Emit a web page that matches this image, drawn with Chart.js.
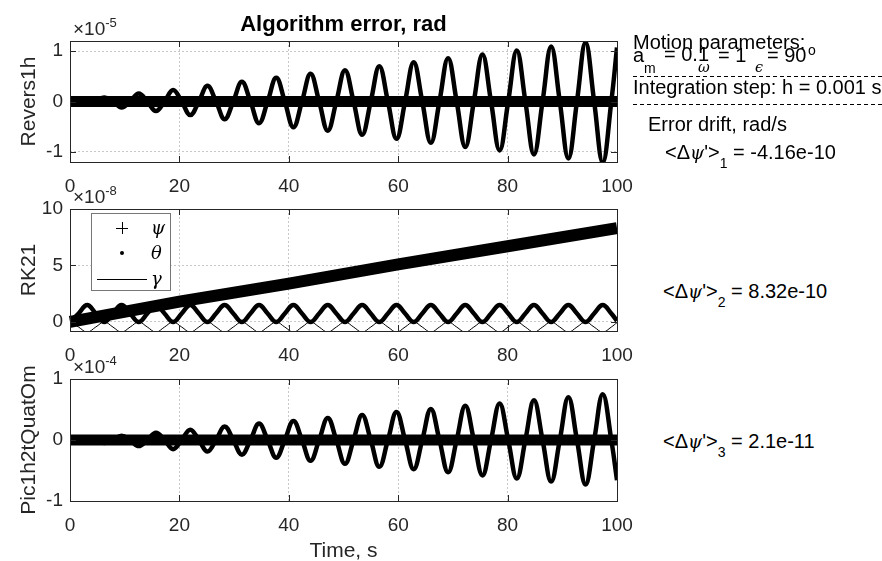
<!DOCTYPE html>
<html lang="en">
<head>
<meta charset="UTF-8">
<title>Algorithm error, rad</title>
<script src="https://cdn.jsdelivr.net/npm/chart.js"></script>
<style>
    body { margin: 0; background: #fff; }
    #page { position: relative; width: 882px; height: 561px; overflow: hidden; background: #fff; }
    canvas { position: absolute; left: 0; }
    .t { position: absolute; font: 20px "Liberation Sans", Arial, sans-serif; line-height: 20px; white-space: nowrap; color: #000; }
    .s { font-size: 14px; line-height: 14px; }
    .g { font-family: "DejaVu Serif", serif; font-style: italic; font-size: 0.9em; }
    .dash { position: absolute; left: 633px; width: 249px; height: 1px;
            background: repeating-linear-gradient(90deg, #000 0 4px, transparent 4px 7px); }
    .d sub { font-size: 14px; vertical-align: -9px; line-height: 0; }
</style>
</head>
<body>
<div id="page">
    <canvas id="c1" width="640" height="200" style="top:0px"></canvas>
    <canvas id="c2" width="640" height="201" style="top:168px"></canvas>
    <canvas id="c3" width="640" height="223" style="top:338px"></canvas>

    <div class="t" style="left:633px; top:32px">Motion parameters:</div>
    <div class="t" style="left:633px; top:45px">a</div>
    <div class="t s" style="left:644px; top:61px">m</div>
    <div class="t" style="left:664px; top:44px">= 0.1</div>
    <div class="t s g" style="left:698px; top:60px">ω</div>
    <div class="t" style="left:718px; top:45px">= 1</div>
    <div class="t s g" style="left:755px; top:60px">ϵ</div>
    <div class="t" style="left:767px; top:45px">= 90</div>
    <div class="t s" style="left:808px; top:43px">o</div>
    <div class="dash" style="top:76px"></div>
    <div class="t" style="left:633px; top:77px">Integration step: h = 0.001 s</div>
    <div class="dash" style="top:104px"></div>
    <div class="t" style="left:648px; top:114px">Error drift, rad/s</div>
    <div class="t d" style="left:665px; top:142px">&lt;Δ<span class="g">ψ</span>'&gt;<sub>1</sub> = -4.16e-10</div>
    <div class="t d" style="left:663px; top:281px">&lt;Δ<span class="g">ψ</span>'&gt;<sub>2</sub> = 8.32e-10</div>
    <div class="t d" style="left:663px; top:431px">&lt;Δ<span class="g">ψ</span>'&gt;<sub>3</sub> = 2.1e-11</div>
</div>

<script>
// time points at every quarter period, s
const tQuarter = [0, 1.57, 3.14, 4.71, 6.28, 7.85, 9.42, 11.0, 12.57, 14.14, 15.71, 17.28,
    18.85, 20.42, 21.99, 23.56, 25.13, 26.7, 28.27, 29.85, 31.42, 32.99, 34.56, 36.13,
    37.7, 39.27, 40.84, 42.41, 43.98, 45.55, 47.12, 48.69, 50.27, 51.84, 53.41, 54.98,
    56.55, 58.12, 59.69, 61.26, 62.83, 64.4, 65.97, 67.54, 69.12, 70.69, 72.26, 73.83,
    75.4, 76.97, 78.54, 80.11, 81.68, 83.25, 84.82, 86.39, 87.96, 89.54, 91.11, 92.68,
    94.25, 95.82, 97.39, 98.96, 100];

// Revers1h, x1e-5
const psi1 = [0, 0];
const gamma1 = [0, 0];
const theta1 = [0, 0, -0.04, 0, 0.08, 0, -0.12, 0, 0.16, 0, -0.19, 0, 0.23, 0, -0.27, 0,
    0.31, 0, -0.35, 0, 0.39, 0, -0.43, 0, 0.47, 0, -0.51, 0, 0.55, 0, -0.58, 0, 0.62, 0,
    -0.66, 0, 0.70, 0, -0.74, 0, 0.78, 0, -0.82, 0, 0.86, 0, -0.90, 0, 0.93, 0, -0.97, 0,
    1.01, 0, -1.05, 0, 1.09, 0, -1.13, 0, 1.17, 0, -1.21, 0, 1.07];

// RK21, x1e-8
const driftT = [0, 20, 40, 60, 80, 100];
const psi2 = [0, 1.8, 3.4, 5.1, 6.7, 8.3];
const theta2 = [0, 0.75, 1.5, 0.75, 0, 0.75, 1.5, 0.75, 0, 0.75, 1.5, 0.75, 0, 0.75, 1.5, 0.75,
    0, 0.75, 1.5, 0.75, 0, 0.75, 1.5, 0.75, 0, 0.75, 1.5, 0.75, 0, 0.75, 1.5, 0.75, 0, 0.75,
    1.5, 0.75, 0, 0.75, 1.5, 0.75, 0, 0.75, 1.5, 0.75, 0, 0.75, 1.5, 0.75, 0, 0.75, 1.5, 0.75,
    0, 0.75, 1.5, 0.75, 0, 0.75, 1.5, 0.75, 0, 0.75, 1.5, 0.75, 0.1];
const gamma2 = [0, -0.45, -0.9, -0.45, 0, -0.45, -0.9, -0.45, 0, -0.45, -0.9, -0.45, 0, -0.45,
    -0.9, -0.45, 0, -0.45, -0.9, -0.45, 0, -0.45, -0.9, -0.45, 0, -0.45, -0.9, -0.45, 0, -0.45,
    -0.9, -0.45, 0, -0.45, -0.9, -0.45, 0, -0.45, -0.9, -0.45, 0, -0.45, -0.9, -0.45, 0, -0.45,
    -0.9, -0.45, 0, -0.45, -0.9, -0.45, 0, -0.45, -0.9, -0.45, 0, -0.45, -0.9, -0.45, 0, -0.45,
    -0.9, -0.45, -0.05];

// Pic1h2tQuatOm, x1e-4
const psi3 = [0, 0];
const gamma3 = [0, 0];
const theta3 = [0, 0, 0.02, 0, -0.05, 0, 0.07, 0, -0.10, 0, 0.12, 0, -0.15, 0, 0.17, 0,
    -0.19, 0, 0.22, 0, -0.24, 0, 0.27, 0, -0.29, 0, 0.31, 0, -0.34, 0, 0.36, 0, -0.39, 0,
    0.41, 0, -0.44, 0, 0.46, 0, -0.48, 0, 0.51, 0, -0.53, 0, 0.56, 0, -0.58, 0, 0.60, 0,
    -0.63, 0, 0.65, 0, -0.68, 0, 0.70, 0, -0.73, 0, 0.75, 0, -0.66];

const xTicks = [0, 20, 40, 60, 80, 100];
const yTicks1 = [-1, 0, 1];
const yTicks2 = [0, 5, 10];
const yTicks3 = [-1, 0, 1];
const legendLabels = ['ψ', 'θ', 'γ'];

const axisColor = '#262626';
const sans = '"Liberation Sans", Arial, sans-serif';

function pts(xs, ys) {
    return xs.map((x, i) => ({ x: x, y: ys[i] }));
}

// box, inward ticks, exponent label, titles, legend
function makeFrame(o) {
    return {
        id: 'frame',
        afterDraw(chart) {
            const { ctx, chartArea: a, scales: { x, y } } = chart;
            ctx.save();
            ctx.strokeStyle = axisColor;
            ctx.lineWidth = 1;
            ctx.beginPath();
            x.ticks.forEach(t => {
                const px = Math.round(x.getPixelForValue(t.value)) + 0.5;
                ctx.moveTo(px, a.bottom); ctx.lineTo(px, a.bottom - 6);
                ctx.moveTo(px, a.top); ctx.lineTo(px, a.top + 6);
            });
            y.ticks.forEach(t => {
                const py = Math.round(y.getPixelForValue(t.value)) + 0.5;
                ctx.moveTo(a.left, py); ctx.lineTo(a.left + 6, py);
                ctx.moveTo(a.right, py); ctx.lineTo(a.right - 6, py);
            });
            ctx.stroke();
            ctx.strokeRect(Math.round(a.left) + 0.5, Math.round(a.top) + 0.5,
                Math.round(a.width), Math.round(a.height));

            ctx.fillStyle = axisColor;
            ctx.textBaseline = 'alphabetic';
            ctx.font = '19px ' + sans;
            ctx.fillText('×10', a.left + 3, a.top - 6);
            const w = ctx.measureText('×10').width;
            ctx.font = '13px ' + sans;
            ctx.fillText(o.exp, a.left + 3 + w, a.top - 14);

            ctx.font = '21px ' + sans;
            ctx.save();
            ctx.translate(35, (a.top + a.bottom) / 2);
            ctx.rotate(-Math.PI / 2);
            ctx.textAlign = 'center';
            ctx.fillText(o.yTitle, 0, 0);
            ctx.restore();

            if (o.title) {
                ctx.fillStyle = '#000';
                ctx.font = 'bold 22px ' + sans;
                ctx.textAlign = 'center';
                ctx.fillText(o.title, (a.left + a.right) / 2, 31);
            }
            if (o.xTitle) {
                ctx.font = '21px ' + sans;
                ctx.textAlign = 'center';
                ctx.fillText(o.xTitle, (a.left + a.right) / 2, chart.height - 4);
            }
            if (o.legend) {
                const L = o.legend;
                ctx.fillStyle = '#fff';
                ctx.fillRect(L.x, L.y, L.w, L.h);
                ctx.strokeStyle = '#777';
                ctx.strokeRect(L.x + 0.5, L.y + 0.5, L.w, L.h);
                ctx.strokeStyle = '#000';
                ctx.fillStyle = '#000';
                const cx = L.x + 31;
                const rows = [L.y + 15, L.y + 40, L.y + 66];
                ctx.beginPath();
                ctx.moveTo(cx - 6, rows[0] + 0.5); ctx.lineTo(cx + 6, rows[0] + 0.5);
                ctx.moveTo(cx + 0.5, rows[0] - 6); ctx.lineTo(cx + 0.5, rows[0] + 6);
                ctx.stroke();
                ctx.beginPath();
                ctx.arc(cx, rows[1], 2, 0, Math.PI * 2);
                ctx.fill();
                ctx.beginPath();
                ctx.moveTo(L.x + 6, rows[2] + 0.5); ctx.lineTo(L.x + 56, rows[2] + 0.5);
                ctx.stroke();
                ctx.font = 'italic 18px "DejaVu Serif", serif';
                ctx.textAlign = 'left';
                legendLabels.forEach((s, i) => ctx.fillText(s, L.x + 60, rows[i] + 6));
            }
            ctx.restore();
        }
    };
}

function makeChart(id, datasets, yMin, yMax, yTicks, frameOpts, xHeight) {
    return new Chart(document.getElementById(id), {
        type: 'line',
        data: { datasets: datasets },
        options: {
            responsive: false,
            animation: false,
            layout: { padding: { top: 41, right: 23, left: 0, bottom: 0 } },
            elements: { point: { radius: 0 } },
            plugins: { legend: { display: false }, tooltip: { enabled: false } },
            scales: {
                x: {
                    type: 'linear', min: 0, max: 100,
                    afterBuildTicks: s => { s.ticks = xTicks.map(v => ({ value: v })); },
                    afterFit: s => { s.height = xHeight; s.paddingLeft = 0; s.paddingRight = 0; },
                    grid: { color: '#c8c8c8', drawTicks: false },
                    border: { display: false, dash: [2, 2] },
                    ticks: { color: axisColor, font: { family: sans, size: 19 }, padding: 13, maxRotation: 0 }
                },
                y: {
                    type: 'linear', min: yMin, max: yMax,
                    afterBuildTicks: s => { s.ticks = yTicks.map(v => ({ value: v })); },
                    afterFit: s => { s.width = 70; },
                    grid: { color: '#c8c8c8', drawTicks: false },
                    border: { display: false, dash: [2, 2] },
                    ticks: { color: axisColor, font: { family: sans, size: 19 }, padding: 7 }
                }
            }
        },
        plugins: [makeFrame(frameOpts)]
    });
}

const band = (label, data, width) => ({ label, data, borderColor: '#000', borderWidth: width,
    tension: 0, clip: { left: 4, right: 4, top: 0, bottom: 0 } });
const wave = (label, data, width) => ({ label, data, borderColor: '#000', borderWidth: width,
    tension: 0.4, clip: 0 });

makeChart('c1', [
    band('ψ', pts([0, 100], psi1), 11),
    wave('θ', pts(tQuarter, theta1), 4.5),
    band('γ', pts([0, 100], gamma1), 1)
], -1.2, 1.2, yTicks1, { exp: '-5', yTitle: 'Revers1h', title: 'Algorithm error, rad' }, 38);

// legend box sits in canvas 2 coordinates (canvas top is 168px)
makeChart('c2', [
    band('ψ', pts(driftT, psi2), 12),
    wave('θ', pts(tQuarter, theta2), 4.5),
    wave('γ', pts(tQuarter, gamma2), 1)
], -0.8, 10, yTicks2, { exp: '-8', yTitle: 'RK21',
    legend: { x: 91, y: 45, w: 79, h: 77 } }, 38);

makeChart('c3', [
    band('ψ', pts([0, 100], psi3), 11),
    wave('θ', pts(tQuarter, theta3), 4.5),
    band('γ', pts([0, 100], gamma3), 1)
], -1, 1, yTicks3, { exp: '-4', yTitle: 'Pic1h2tQuatOm', xTitle: 'Time, s' }, 60);
</script>
</body>
</html>
